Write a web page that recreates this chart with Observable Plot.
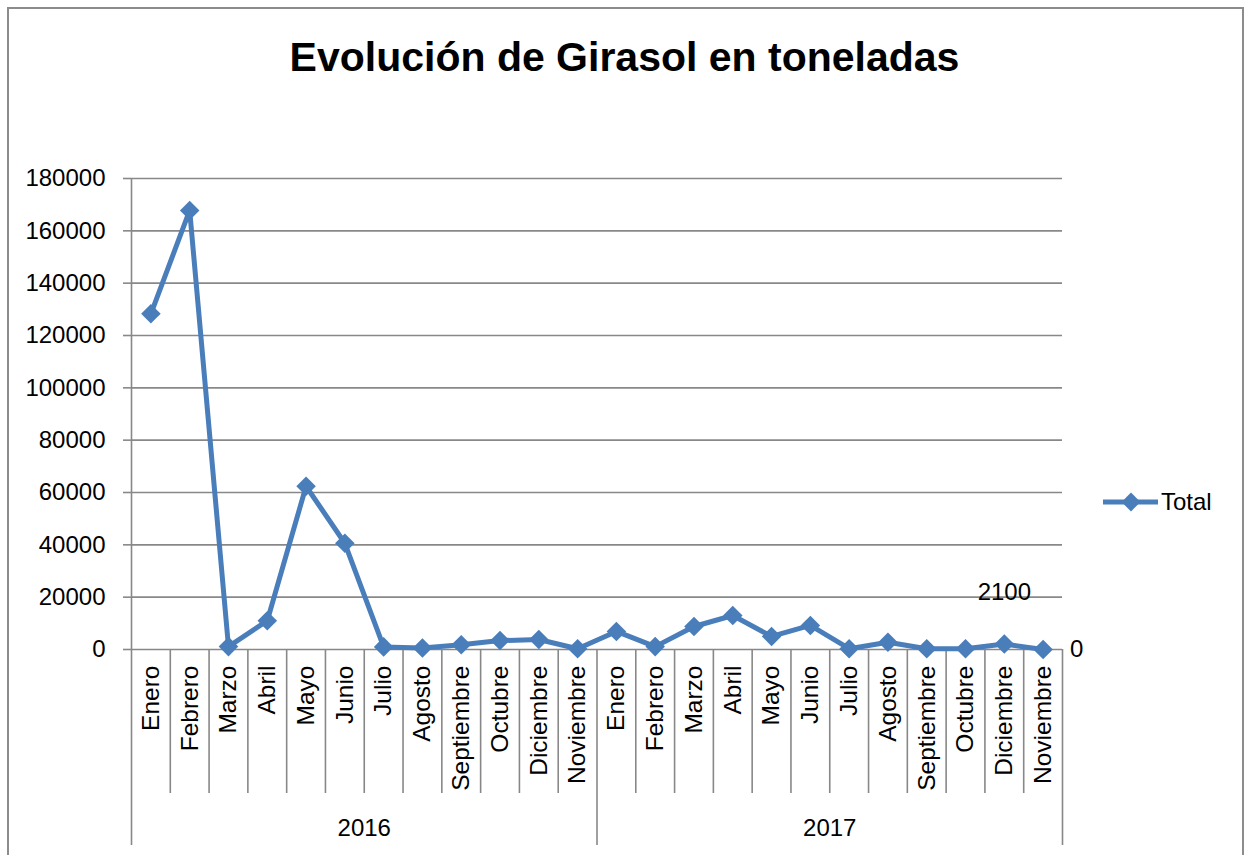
<!DOCTYPE html>
<html>
<head>
<meta charset="utf-8">
<script src="https://cdn.jsdelivr.net/npm/d3@7"></script>
<script src="https://cdn.jsdelivr.net/npm/@observablehq/plot@0.6"></script>
<style>
  html, body { margin: 0; padding: 0; background: #fff; overflow: hidden; }
  #wrap { position: relative; width: 1245px; height: 855px; font-family: "Liberation Sans", Arial, sans-serif; }
  #frame { position: absolute; left: 7px; top: 7px; width: 1237px; height: 900px; border: 2px solid #8c8c8c; box-sizing: border-box; }
  #title { position: absolute; left: 0; top: 37px; width: 1249px; text-align: center; font-size: 41px; line-height: 41px; font-weight: bold; color: #000; }
  #legend { position: absolute; left: 1100px; top: 486px; width: 140px; height: 32px; }
  #chart { position: absolute; left: 0; top: 0; }
</style>
</head>
<body>
<div id="wrap">
  <div id="frame"></div>
  <div id="chart"></div>
  <div id="title">Evolución de Girasol en toneladas</div>
  <div id="legend"></div>
</div>
<script>
// ---- data ----
const years = ["2016", "2017"];
const months = ["Enero", "Febrero", "Marzo", "Abril", "Mayo", "Junio", "Julio", "Agosto", "Septiembre", "Octubre", "Diciembre", "Noviembre"];
const values2016 = [128300, 167800, 1100, 11000, 62400, 40600, 1000, 600, 1800, 3400, 3800, 300];
const values2017 = [6900, 1100, 8800, 13000, 5000, 9200, 300, 2800, 300, 300, 2100, 0];
const yTicks = [0, 20000, 40000, 60000, 80000, 100000, 120000, 140000, 160000, 180000];
const labelled = [{year: "2017", month: "Diciembre", label: "2100"}];
const seriesName = "Total";

// ---- table ----
const rows = [];
years.forEach((yr, yi) => {
  const vals = yi === 0 ? values2016 : values2017;
  months.forEach((m, mi) => {
    rows.push({year: yr, month: m, value: vals[mi], i: rows.length + 0.5, b: rows.length});
  });
});
const n = rows.length;
const yearRows = years.map((yr, yi) => ({year: yr, mid: yi * months.length + months.length / 2}));
const labelRows = labelled.map(l => {
  const r = rows.find(d => d.year === l.year && d.month === l.month);
  return {...r, label: l.label};
});
const lastRow = rows[rows.length - 1];

const blue = "#4a7ebb";
const gray = "#888888";

const boundaries = d3.range(1, n).filter(b => b % months.length !== 0);
const yearBounds = d3.range(0, n + 1, months.length);

const chart = Plot.plot({
  width: 1245,
  height: 855,
  marginLeft: 131,
  marginRight: 183,
  marginTop: 178,
  marginBottom: 206,
  style: {fontFamily: "'Liberation Sans', Arial, sans-serif", fontSize: "24px", color: "#000", background: "transparent"},
  x: {domain: [0, n], axis: null},
  y: {domain: [0, 180000], ticks: yTicks, tickFormat: d => String(d)},
  marks: [
    Plot.gridY(yTicks, {stroke: gray, strokeOpacity: 1, strokeWidth: 1.6}),
    Plot.axisY({ticks: yTicks, tickFormat: d => String(d), tickSize: 8, tickPadding: 18, stroke: gray, strokeWidth: 1.6, fontSize: 24, label: null}),
    // month separators
    Plot.ruleX(boundaries, {x: d => d, stroke: gray, strokeWidth: 1.6, insetTop: 471, insetBottom: -144}),
    // year separators
    Plot.ruleX(yearBounds.filter(b => b !== 0), {x: d => d, stroke: gray, strokeWidth: 1.6, insetTop: 471, insetBottom: -196}),
    // y axis line, continuing as first year separator
    Plot.ruleX([0], {stroke: gray, strokeWidth: 1.6, insetBottom: -196}),
    // month labels
    Plot.text(rows, {x: "i", y: () => 0, text: "month", rotate: -90, textAnchor: "end", dy: 16, fontSize: 24.5, fill: "#000"}),
    // year labels
    Plot.text(yearRows, {x: "mid", y: () => 0, text: "year", dy: 179, fontSize: 24, fill: "#000"}),
    // series
    Plot.line(rows, {x: "i", y: "value", stroke: blue, strokeWidth: 5, strokeLinejoin: "round"}),
    Plot.dot(rows, {x: "i", y: "value", symbol: "diamond2", r: 8.8, fill: blue, stroke: null}),
    // data labels
    Plot.text(labelRows, {x: "i", y: "value", text: "label", dy: -52, fontSize: 24, fill: "#000"}),
    Plot.text([lastRow], {x: "i", y: "value", text: d => String(d.value), dx: 27, textAnchor: "start", fontSize: 24, fill: "#000"})
  ]
});
document.getElementById("chart").appendChild(chart);

// legend
const lg = d3.select("#legend").append("svg").attr("width", 140).attr("height", 32);
lg.append("line").attr("x1", 3).attr("x2", 58).attr("y1", 16).attr("y2", 16).attr("stroke", blue).attr("stroke-width", 5);
lg.append("path").attr("d", d3.symbol(d3.symbolDiamond2, Math.PI * 8.5 * 8.5)()).attr("transform", "translate(31,16)").attr("fill", blue);
lg.append("text").attr("x", 61).attr("y", 16).attr("dy", "0.35em").attr("font-size", 24).attr("font-family", "'Liberation Sans', Arial, sans-serif").text(seriesName);
</script>
</body>
</html>
